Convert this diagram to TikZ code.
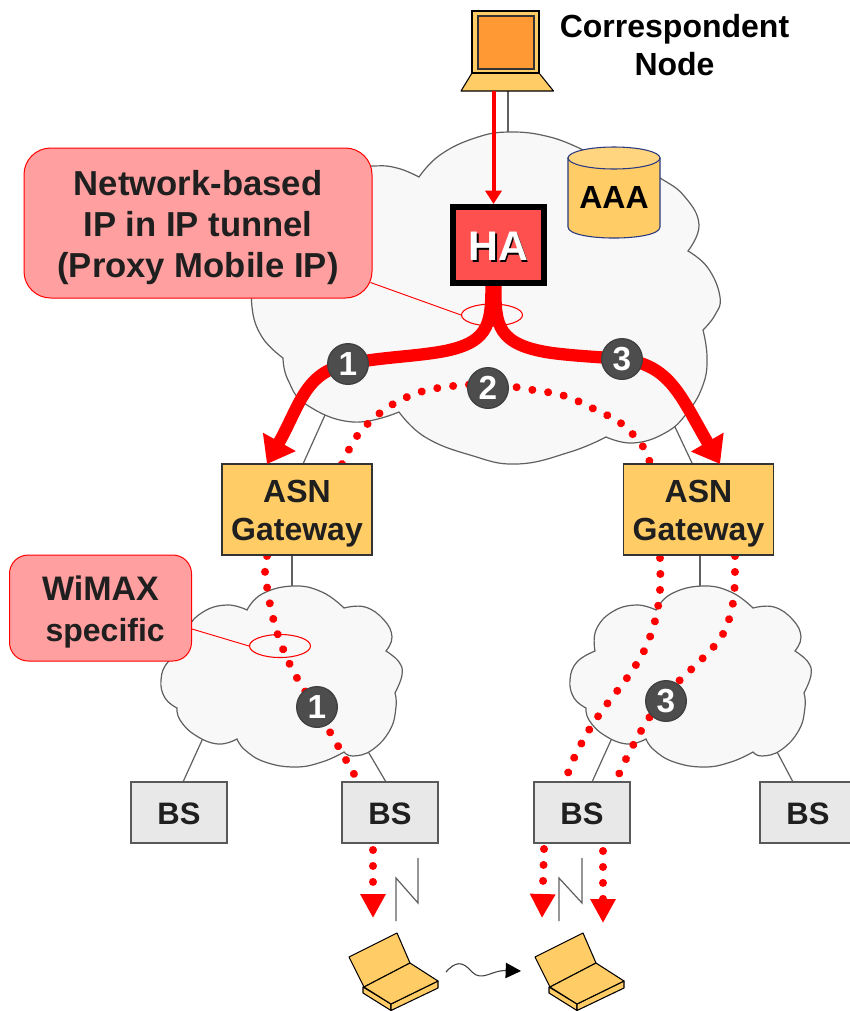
\documentclass[tikz,border=0pt]{standalone}
\usepackage{fontspec}
\setmainfont{Liberation Sans}
\usetikzlibrary{arrows.meta,calc,shapes.geometric}
\definecolor{boxor}{HTML}{FFCC66}
\definecolor{scrn}{HTML}{FF9933}
\definecolor{cyltop}{HTML}{FFD580}
\definecolor{cyledge}{HTML}{2A3A80}
\definecolor{cloudf}{HTML}{F8F8F8}
\definecolor{calloutf}{HTML}{FF9F9F}
\definecolor{hafill}{HTML}{FF5050}
\definecolor{bsf}{HTML}{E8E8E8}
\definecolor{edgeg}{HTML}{606060}
\definecolor{badge}{HTML}{4D4D4D}
\newcommand{\pxs}[2]{\fontsize{#1}{#2}\selectfont\bfseries}
\newcommand{\tl}[1]{\rule{0pt}{#1}}
\tikzset{
  x=.75pt,y=-.75pt,
  cloudst/.style={draw=edgeg,fill=cloudf,line width=.9pt,line join=miter,smooth,tension=.75},
  thin line/.style={draw=edgeg,line width=.9pt},
  gwbox/.style={draw=black!80,fill=boxor,line width=.9pt,minimum width=112.5pt,minimum height=68.25pt,inner sep=0pt,align=center,font=\pxs{24}{28.5},text=black!88},
  bsbox/.style={draw=black!65,fill=bsf,line width=.9pt,minimum width=72pt,minimum height=45.75pt,inner sep=0pt,font=\pxs{23.25}{28},text=black!88},
  callout/.style={draw=red,fill=calloutf,line width=.75pt,inner sep=0pt,align=center,text=black!88},
  ring/.style={draw=red,line width=.8pt,ellipse,inner sep=0pt},
  leader/.style={draw=red,line width=.7pt},
  badgest/.style={circle,draw=black!75,fill=badge,line width=1pt,minimum size=30.5pt,inner sep=0pt,text=white,font=\pxs{25}{28}},
  thick flow/.style={draw=red,line width=9.2pt,-{Triangle[length=19pt,width=27pt]}},
  dotline/.style={draw=red,line width=6pt,line cap=round,dash pattern=on 0.01pt off 11.95pt},
  dotcurve/.style={dotline,smooth,tension=.6},
  dottip/.style={-{Triangle[length=18pt,width=18pt]}},
  laptopst/.style={draw=black,fill=boxor,line width=.8pt,line join=round},
  zig/.style={draw=edgeg,line width=.9pt,line join=miter},
}
\newcommand{\smallcloud}{%
  \path[cloudst]
    plot coordinates {(247,610)(262,594)(293,586)(322,592)(344,608)}
    -- plot coordinates {(344,608)(365,607)(384,620)(392,637)(386,651)}
    -- plot coordinates {(386,651)(399,662)(402,675)(395,693)}
    -- plot coordinates {(395,693)(396,707)(390,730)(372,750)(353,756)(344,752)}
    -- plot coordinates {(344,752)(322,762)(295,767)(265,762)(245,750)(237,739)}
    -- plot coordinates {(237,739)(218,744)(195,735)(180,720)(177,708)}
    -- plot coordinates {(177,708)(165,698)(161,680)(168,662)(186,651)}
    -- plot coordinates {(186,651)(187,630)(203,612)(227,605)(247,610)} -- cycle;}
\newcommand{\lowlaptop}{%
  \path[laptopst] (349,957) -- (397,933) -- (410,963) -- (364,987) -- cycle;
  \path[laptopst] (363,987) -- (391,1004) -- (391,1010.5) -- (363,993) -- cycle;
  \path[laptopst] (391,1004) -- (438,981) -- (438,988) -- (391,1010.5) -- cycle;
  \path[laptopst] (364,987) -- (410,963) -- (438,981) -- (391,1004) -- cycle;}
\begin{document}
\begin{tikzpicture}
\useasboundingbox (0,0) rectangle (850,1011);
\clip (0,0) rectangle (850,1011);
\fill[white] (0,0) rectangle (850,1011);

% free ends of the thin links, on the cloud outlines
\coordinate (cnb) at (508,91);  \coordinate (bigtop) at (508,134);
\coordinate (a1) at (325,415);  \coordinate (a3) at (675,427);
\coordinate (b2) at (292,590);  \coordinate (b4) at (700,590);
\coordinate (c1) at (203,738);  \coordinate (c3) at (366,748);
\coordinate (c5) at (612,738);  \coordinate (c7) at (775,748);

% boxes are placed with their names first on a path that paints nothing
\path (297,509.5) node[minimum width=112.5pt,minimum height=68.25pt,inner sep=0pt,outer sep=0pt] (gwLb) {}
      (698.5,509.5) node[minimum width=112.5pt,minimum height=68.25pt,inner sep=0pt,outer sep=0pt] (gwRb) {}
      (179,812.5) node[minimum width=72pt,minimum height=45.75pt,inner sep=0pt,outer sep=0pt] (bs1b) {}
      (390,812.5) node[minimum width=72pt,minimum height=45.75pt,inner sep=0pt,outer sep=0pt] (bs2b) {}
      (582,812.5) node[minimum width=72pt,minimum height=45.75pt,inner sep=0pt,outer sep=0pt] (bs3b) {}
      (808,812.5) node[minimum width=72pt,minimum height=45.75pt,inner sep=0pt,outer sep=0pt] (bs4b) {}
      (498.5,245) node[minimum width=72.75pt,minimum height=61.5pt,inner sep=0pt,outer sep=0pt] (hab) {};

% thin links behind the clouds
\draw[thin line] (cnb) -- (bigtop);
\draw[thin line] (a1) -- ($(gwLb.north)+(6,0)$);
\draw[thin line] (a3) -- ($(gwRb.north)+(-6,0)$);
\draw[thin line] (gwLb.south -| b2) -- (b2);
\draw[thin line] (gwRb.south -| b4) -- (b4);
\draw[thin line] (c1) -- ($(bs1b.north)+(4,0)$);
\draw[thin line] (c3) -- ($(bs2b.north)+(-4,0)$);
\draw[thin line] (c5) -- ($(bs3b.north)+(10,0)$);
\draw[thin line] (c7) -- ($(bs4b.north)+(-15,0)$);

% clouds
\path[cloudst]
  plot coordinates {(419,177)(440,155)(475,138)(510,132)(550,137)(583,150)}
  -- plot coordinates {(583,150)(625,160)(660,178)(685,197)(699,225)(688,251)}
  -- plot coordinates {(688,251)(708,268)(720,297)(715,315)(703,330)}
  -- plot coordinates {(703,330)(707,357)(703,385)(687,413)(665,433)(633,443)(606,437)}
  -- plot coordinates {(606,437)(570,452)(517,464)(470,455)(425,437)(399,412)}
  -- plot coordinates {(399,412)(353,422)(307,405)(288,380)(283,358)}
  -- plot coordinates {(283,358)(262,337)(252,307)(256,280)(275,255)}
  -- plot coordinates {(275,255)(285,200)(330,170)(373,166)(397,168)(419,177)} -- cycle;
\smallcloud
\begin{scope}[shift={(409,0)}]\smallcloud\end{scope}

% AAA store
\path[draw=cyledge,fill=boxor,line width=.8pt] (568,158) -- (568,227) .. controls (568,241.7) and (660,241.7) .. (660,227) -- (660,158) -- cycle;
\path[draw=cyledge,fill=cyltop,line width=.8pt] (614,158) ellipse[x radius=34.5pt,y radius=8.25pt];
\node[font=\pxs{24}{28},text=black] (aaa) at (614,197) {AAA};

% correspondent laptop
\path[draw=black,fill=boxor,line width=.8pt,line join=round] (472,73) -- (539,73) -- (553.5,91) -- (461,91) -- cycle;
\path[draw=black,fill=boxor,line width=.8pt] (472,11) rectangle (539,73);
\path[draw=black!80,fill=scrn,line width=.8pt] (478,16) rectangle (534,69);
\node[font=\pxs{24}{28.5},align=center,text=black] (cn) at (674.5,45) {Correspondent\\Node};

% rings
\node[ring,minimum width=45.75pt,minimum height=16.5pt] (ringA) at (492,315) {};
\node[ring,minimum width=45.75pt,minimum height=17.25pt] (ringB) at (280,646) {};

% callouts
\node[callout,rounded corners=20pt,minimum width=261pt,minimum height=112.5pt,font=\pxs{26}{30.75}] (noteA) at (198,223) {\tl{25.2pt}Network-based\\IP in IP tunnel\\(Proxy Mobile IP)};
\node[callout,rounded corners=14pt,minimum width=136.5pt,minimum height=79.5pt,font=\pxs{25.5}{30.75}] (noteB) at (100.5,608) {\tl{24.3pt}WiMAX\\\hspace*{7pt}{\fontsize{24}{30.75}\selectfont specific}};
\draw[leader] ($(noteA.south east)+(-2,-16)$) -- (ringA.west);
\draw[leader] ($(noteB.east)+(0,21)$) -- (ringB.west);

% dotted tunnels
\coordinate (dL) at ($(gwLb.south)+(-30,1)$);
\coordinate (dRa) at ($(gwRb.south)+(-38.5,3)$);
\coordinate (dRb) at ($(gwRb.south)+(36.5,1)$);
\coordinate (d2a) at ($(gwLb.north)+(45,0)$);
\coordinate (d2b) at ($(gwRb.north)+(-48.5,0)$);
\draw[dotcurve] plot coordinates {(dL)(265,571)(267,587)(273,618)(283,649)(297,678)(317,710)(338,746)(354,774)};
\draw[dotcurve] plot coordinates {(dRa)(660,590)(655,621)(644,651)(627,678)(607,704)(589,730)(574,758)(568,773)};
\draw[dotcurve] plot coordinates {(dRb)(735,571)(733,603)(723,634)(703,658)(680,680)(660,702)(641,731)(626,759)(619,774)};
\draw[dotcurve] plot coordinates {(d2a)(357,436)(380,413)(407,397)(438,388)(488,384)(533,390)(565,396)(594,409)(622,424)(644,448)(d2b)};

% radio links
\draw[zig] (418,858) -- (418,903) -- (396,878) -- (396,921);
\draw[zig] (582,858) -- (582,903) -- (559,878) -- (559,921);
\draw[dotline,dottip] ($(bs2b.south)+(-17,7)$) -- ++(0,68);
\draw[dotline,dottip] ($(bs3b.south)+(-38,6)$) -- ++(-2,69);
\draw[dotline,dottip] ($(bs3b.south)+(21,8)$) -- ++(0,72);

% boxes
\node[gwbox] (gwL) at (gwLb) {\tl{23.2pt}ASN\\Gateway};
\node[gwbox] (gwR) at (gwRb) {\tl{23.2pt}ASN\\Gateway};
\node[bsbox] (bs1) at (bs1b) {\tl{18.8pt}BS};
\node[bsbox] (bs2) at (bs2b) {\tl{18.8pt}BS};
\node[bsbox] (bs3) at (bs3b) {\tl{18.8pt}BS};
\node[bsbox] (bs4) at (bs4b) {\tl{18.8pt}BS};

% flows
\coordinate (cnr) at (493.5,91);
\draw[draw=red,line width=3pt,-{Triangle[length=10pt,width=12pt]}] (cnr) -- ($(hab.north)+(-5,0)$);
\draw[thick flow] ($(hab.south)+(-7,0)$) .. controls (491,325) and (490,345) .. (433,353) .. controls (405,357) and (375,358) .. (348,364) .. controls (305,372) and (300,405) .. (267,464);
\draw[thick flow] ($(hab.south)+(-3,0)$) .. controls (495,325) and (497,345) .. (552,353) .. controls (575,356) and (600,357) .. (622,359) .. controls (670,365) and (680,395) .. (720,464);

% home agent
\node[draw=black,fill=hafill,line width=4.5pt,minimum width=68.25pt,minimum height=57pt,inner sep=0pt] (ha) at (hab) {};
\node[font=\pxs{31}{32},text=black] (hashadow) at ($(ha)+(1.5,3)$) {HA};
\node[font=\pxs{31}{32},text=white] (halabel) at ($(ha)+(0,1.5)$) {HA};

% numbered badges
\node[badgest] (n1) at (348,364) {1};
\node[badgest] (n2) at (488,388) {2};
\node[badgest] (n3) at (622,359) {3};
\node[badgest] (n4) at (317,707) {1};
\node[badgest] (n5) at (666,701) {3};

% mobile terminals
\lowlaptop
\begin{scope}[shift={(186,0)}]\lowlaptop\end{scope}
\coordinate (w1) at (446,972);
\coordinate (w2) at (521,971);
\draw[draw=black!75,line width=.8pt,-{Triangle[length=11.5pt,width=11.5pt,black]}] (w1) .. controls (455,962) and (462,960) .. (472,972) .. controls (482,982) and (492,970) .. (w2);
\end{tikzpicture}
\end{document}
